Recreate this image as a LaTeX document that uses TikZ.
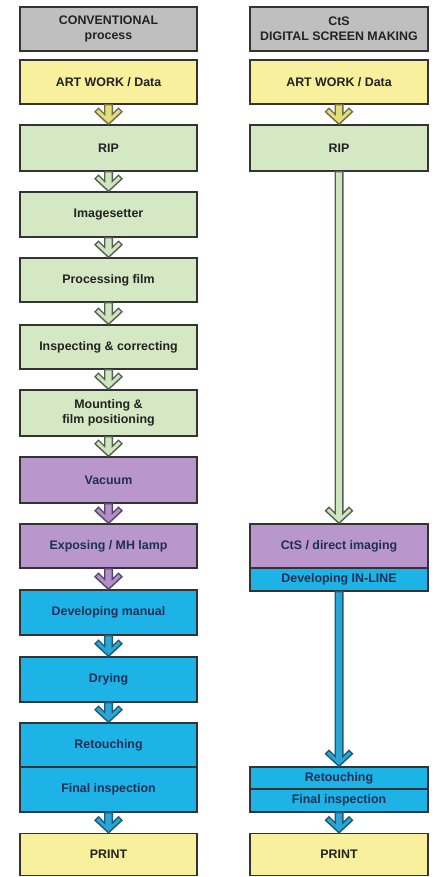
\documentclass[tikz,border=0pt]{standalone}
\usepackage{fontspec}
\setmainfont{Liberation Sans}
\usetikzlibrary{calc}
\definecolor{cgray}{HTML}{BFBFBF}
\definecolor{cyellow}{HTML}{F8F09C}
\definecolor{cgreen}{HTML}{D4E8C4}
\definecolor{cpurple}{HTML}{B996CC}
\definecolor{cblue}{HTML}{1DB3E6}
\definecolor{cborder}{HTML}{333333}
\definecolor{ctext}{HTML}{222222}
\definecolor{cnavy}{HTML}{1E2F55}
\definecolor{ayfill}{HTML}{E4DE78}
\definecolor{ayline}{HTML}{6F6C4A}
\definecolor{agfill}{HTML}{CFE5C0}
\definecolor{agline}{HTML}{53604F}
\definecolor{apfill}{HTML}{B38FC5}
\definecolor{apline}{HTML}{54436A}
\definecolor{abfill}{HTML}{29A6D6}
\definecolor{abline}{HTML}{1B5A7A}
\tikzset{
  box/.style={draw=cborder, line width=1.5pt, rectangle, inner sep=0pt,
    align=center, text=ctext,
    font=\fontsize{12.4}{15}\selectfont\bfseries},
  lbox/.style={box, minimum width=177pt},
  rbox/.style={box, minimum width=178pt},
  graybox/.style={fill=cgray},
  yelbox/.style={fill=cyellow},
  grnbox/.style={fill=cgreen},
  purbox/.style={fill=cpurple, text=cnavy},
  blubox/.style={fill=cblue, text=cnavy},
}
\newcommand\flowarr[4]{%
  \path let \p1=(#3.south), \p2=(#4.north) in
    [fill=#1, draw=#2, line width=1.4pt, line join=miter]
    (\x1-3.8pt,\y1) -- (\x1-3.8pt,\y2+9.8pt) -- (\x1-10pt,\y2+16pt)
    -- (\x1-13.5pt,\y2+12.5pt) -- (\x1,\y2) -- (\x1+13.5pt,\y2+12.5pt)
    -- (\x1+10pt,\y2+16pt) -- (\x1+3.8pt,\y2+9.8pt) -- (\x1+3.8pt,\y1) -- cycle;}
\begin{document}
\begin{tikzpicture}[x=1pt,y=-1pt]
\useasboundingbox[fill=white] (0,0) rectangle (438,877);
% left column
\node[lbox,graybox,minimum height=44pt] (hL) at (108.5,29) {CONVENTIONAL\\process};
\node[lbox,yelbox,minimum height=44pt] (aL) at (108.5,82) {ART WORK / Data};
\node[lbox,grnbox,minimum height=46pt] (rL) at (108.5,148) {RIP};
\node[lbox,grnbox,minimum height=45pt] (iL) at (108.5,214.5) {Imagesetter};
\node[lbox,grnbox,minimum height=44pt] (pL) at (108.5,280) {Processing film};
\node[lbox,grnbox,minimum height=44pt] (cL) at (108.5,347) {Inspecting \& correcting};
\node[lbox,grnbox,minimum height=46pt] (mL) at (108.5,413) {Mounting \&\\film positioning};
\node[lbox,purbox,minimum height=46pt] (vL) at (108.5,480) {Vacuum};
\node[lbox,purbox,minimum height=44pt] (eL) at (108.5,546) {Exposing / MH lamp};
\node[lbox,blubox,minimum height=45pt] (dL) at (108.5,612.5) {Developing manual};
\node[lbox,blubox,minimum height=45pt] (yL) at (108.5,679.5) {Drying};
\node[lbox,blubox,minimum height=44pt] (tL) at (108.5,745) {Retouching};
\node[lbox,blubox,minimum height=45pt] (fL) at (108.5,789.5) {Final inspection};
\node[lbox,yelbox,minimum height=42pt] (prL) at (108.5,854.5) {PRINT};
% right column
\node[rbox,graybox,minimum height=44pt] (hR) at (339,29) {CtS\\DIGITAL SCREEN MAKING};
\node[rbox,yelbox,minimum height=44pt] (aR) at (339,82) {ART WORK / Data};
\node[rbox,grnbox,minimum height=46pt] (rR) at (339,148) {RIP};
\node[rbox,purbox,minimum height=44pt] (ctsR) at (339,546) {CtS / direct imaging};
\node[rbox,blubox,minimum height=23pt] (devR) at (339,579.5) {Developing IN-LINE};
\node[rbox,blubox,minimum height=22pt] (tR) at (339,778) {Retouching};
\node[rbox,blubox,minimum height=23pt] (fR) at (339,800.5) {Final inspection};
\node[rbox,yelbox,minimum height=42pt] (prR) at (339,854.5) {PRINT};
% arrows left
\flowarr{ayfill}{ayline}{aL}{rL}
\flowarr{agfill}{agline}{rL}{iL}
\flowarr{agfill}{agline}{iL}{pL}
\flowarr{agfill}{agline}{pL}{cL}
\flowarr{agfill}{agline}{cL}{mL}
\flowarr{agfill}{agline}{mL}{vL}
\flowarr{apfill}{apline}{vL}{eL}
\flowarr{apfill}{apline}{eL}{dL}
\flowarr{abfill}{abline}{dL}{yL}
\flowarr{abfill}{abline}{yL}{tL}
\flowarr{abfill}{abline}{fL}{prL}
% arrows right
\flowarr{ayfill}{ayline}{aR}{rR}
\flowarr{agfill}{agline}{rR}{ctsR}
\flowarr{abfill}{abline}{devR}{tR}
\flowarr{abfill}{abline}{fR}{prR}
\end{tikzpicture}
\end{document}
